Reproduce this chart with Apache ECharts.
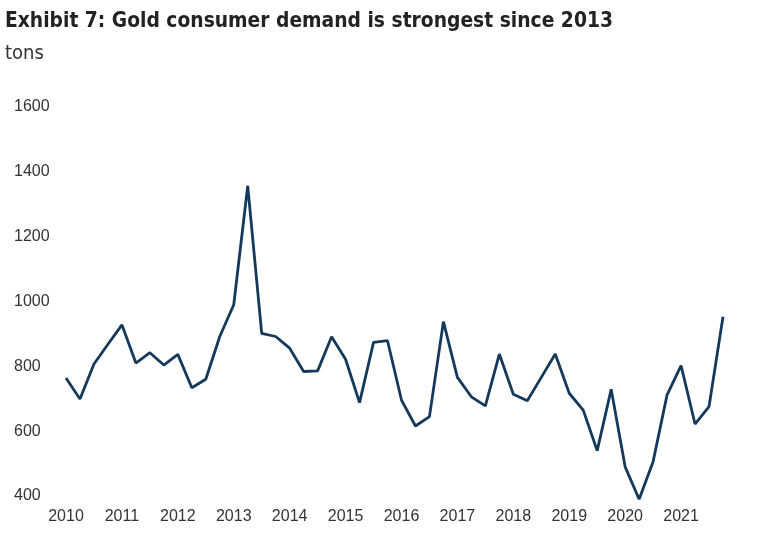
<!DOCTYPE html>
<html>
<head>
<meta charset="utf-8">
<script src="https://cdn.jsdelivr.net/npm/echarts@6/dist/echarts.min.js"></script>
<style>
html,body{margin:0;padding:0;background:#fff;}
#chart{width:760px;height:539px;}
</style>
</head>
<body>
<div id="chart"></div>
<script>
const years = ['2010','2011','2012','2013','2014','2015','2016','2017','2018','2019','2020','2021'];
const quarters = ['Q1','Q2','Q3','Q4'];
const demand = [
  764, 699, 807, 868,
  928, 810, 842, 804,
  837, 734, 760, 892,
  990, 1357, 902, 892,
  856, 784, 786, 891,
  822, 688, 874, 879,
  696, 616, 645, 938,
  766, 706, 678, 838,
  714, 694, 766, 838,
  717, 665, 540, 729,
  490, 390, 506, 712,
  802, 622, 676, 953
];
const yTicks = [400, 600, 800, 1000, 1200, 1400, 1600];

const categories = [];
years.forEach(y => quarters.forEach(q => categories.push(y + ' ' + q)));

const chart = echarts.init(document.getElementById('chart'));
chart.setOption({
  animation: false,
  backgroundColor: '#ffffff',
  title: [
    {
      text: 'Exhibit 7: Gold consumer demand is strongest since 2013',
      left: 0, top: 6,
      textStyle: {fontFamily: '"Liberation Sans Narrow", "DejaVu Sans Condensed", sans-serif', fontWeight: 'bold', fontSize: 20.8, color: '#222'}
    },
    {
      text: 'tons',
      left: 0, top: 39,
      textStyle: {fontFamily: '"Liberation Sans Narrow", "DejaVu Sans Condensed", sans-serif', fontWeight: 'normal', fontSize: 20, color: '#333'}
    }
  ],
  grid: {left: 66, right: 37, top: 107, bottom: 43},
  xAxis: {
    type: 'category',
    data: categories,
    boundaryGap: false,
    axisLine: {show: false},
    axisTick: {show: false},
    splitLine: {show: false},
    axisLabel: {
      interval: 3,
      margin: 13,
      fontSize: 16,
      color: '#333',
      fontFamily: '"Liberation Sans", Arial, sans-serif',
      formatter: v => v.split(' ')[0]
    }
  },
  yAxis: {
    type: 'value',
    min: yTicks[0],
    max: yTicks[yTicks.length - 1],
    interval: 200,
    axisLine: {show: false},
    axisTick: {show: false},
    splitLine: {show: false},
    axisLabel: {
      align: 'left',
      margin: 52,
      fontSize: 16,
      color: '#333',
      fontFamily: '"Liberation Sans", Arial, sans-serif',
      formatter: v => String(v)
    }
  },
  series: [{
    type: 'line',
    data: demand,
    symbol: 'none',
    clip: false,
    lineStyle: {color: '#14395b', width: 2.8},
    z: 1
  }]
});
</script>
</body>
</html>
